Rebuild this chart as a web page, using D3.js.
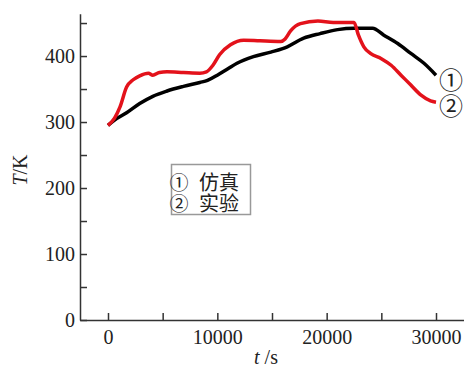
<!DOCTYPE html>
<html>
<head>
<meta charset="utf-8">
<script src="https://cdn.jsdelivr.net/npm/d3@7"></script>
<style>
  body { margin: 0; background: #fff; }
  svg { display: block; }
</style>
</head>
<body>
<div id="chart"></div>
<script>
// tiempo (s) y temperatura (K)
const tiempoSim = [0, 600, 1700, 2900, 4100, 5400, 6900, 8400, 9100, 10000, 11000, 11800, 13300, 14900, 16400, 17900, 19400, 21000, 22500, 24200, 25200, 26500, 27700, 28900, 30000]
const tempSim = [295, 303, 314, 328, 339, 347, 354, 360, 363, 371, 381, 389, 399, 406, 414, 427, 434, 440, 442, 442, 432, 419, 404, 389, 371]

const tiempoExp = [0, 600, 1100, 1700, 2300, 2900, 3700, 4100, 4700, 5400, 6900, 8400, 9000, 9600, 10200, 11200, 12400, 13900, 15800, 16200, 16700, 17600, 19200, 20600, 22200, 22500, 22900, 23400, 24000, 25000, 25900, 26800, 27700, 28600, 29500, 30000]
const tempExp = [295, 306, 323, 353, 364, 370, 374, 371, 375, 376, 375, 374, 376, 386, 402, 417, 424, 423, 422, 426, 438, 449, 453, 451, 451, 451, 432, 414, 404, 396, 386, 371, 356, 341, 332, 330]

const xTicks = [0, 5000, 10000, 15000, 20000, 25000, 30000]
const yTicks = [0, 50, 100, 150, 200, 250, 300, 350, 400, 450]
const leyenda = [['①', '仿真'], ['②', '实验']]

const width = 464
const height = 372

const svg = d3.select('#chart')
    .append('svg')
    .attr('width', width)
    .attr('height', height)

const x = d3.scaleLinear().domain([-2561, 32561]).range([80, 464])
const y = d3.scaleLinear().domain([0, 464]).range([320, 13.8])

const serif = '"Liberation Serif", "DejaVu Serif", serif'
const cjk = '"Noto Sans CJK SC", sans-serif'

// ejes
const ejeX = svg.append('g')
    .attr('transform', `translate(0,${y(0)})`)
    .call(d3.axisBottom(x).tickValues(xTicks).tickSize(-7).tickSizeOuter(0)
        .tickFormat((d) => d % 10000 == 0 ? d : ''))

const ejeY = svg.append('g')
    .attr('transform', `translate(${x.range()[0]},0)`)
    .call(d3.axisLeft(y).tickValues(yTicks).tickSize(-7).tickSizeOuter(0)
        .tickFormat((d) => d % 100 == 0 ? d : ''))

svg.selectAll('.domain, .tick line')
    .attr('stroke', '#333')
    .attr('stroke-width', 1.5)

ejeX.selectAll('text')
    .attr('font-family', serif)
    .attr('font-size', 20)
    .attr('fill', '#222')
    .attr('y', 10)
    .attr('dy', '0.71em')

ejeY.selectAll('text')
    .attr('font-family', serif)
    .attr('font-size', 20)
    .attr('fill', '#222')
    .attr('x', -5)

// titulos
svg.append('text')
    .attr('transform', 'translate(27,170) rotate(-90)')
    .attr('text-anchor', 'middle')
    .attr('font-family', serif)
    .attr('font-size', 20)
    .attr('fill', '#222')
    .html('<tspan font-style="italic">T</tspan>/K')

svg.append('text')
    .attr('x', 266)
    .attr('y', 364)
    .attr('text-anchor', 'middle')
    .attr('font-family', serif)
    .attr('font-size', 20)
    .attr('fill', '#222')
    .html('<tspan font-style="italic">t</tspan> /s')

// curvas
const linea = d3.line()
    .x((d) => x(d[0]))
    .y((d) => y(d[1]))
    .curve(d3.curveMonotoneX)

svg.append('path')
    .datum(d3.zip(tiempoSim, tempSim))
    .attr('d', linea)
    .attr('fill', 'none')
    .attr('stroke', '#000')
    .attr('stroke-width', 3.5)

svg.append('path')
    .datum(d3.zip(tiempoExp, tempExp))
    .attr('d', linea)
    .attr('fill', 'none')
    .attr('stroke', '#e3121b')
    .attr('stroke-width', 3.5)

// etiquetas al final de las curvas
svg.append('text')
    .attr('x', x(30000) + 15)
    .attr('y', y(tempSim[tempSim.length - 1]) + 3)
    .attr('text-anchor', 'middle')
    .attr('dominant-baseline', 'central')
    .attr('font-family', cjk)
    .attr('font-size', 24)
    .attr('fill', '#222')
    .text('①')

svg.append('text')
    .attr('x', x(30000) + 15)
    .attr('y', y(tempExp[tempExp.length - 1]) + 2)
    .attr('text-anchor', 'middle')
    .attr('dominant-baseline', 'central')
    .attr('font-family', cjk)
    .attr('font-size', 24)
    .attr('fill', '#222')
    .text('②')

// leyenda
const caja = svg.append('g')

caja.append('rect')
    .attr('x', 171.5)
    .attr('y', 164.5)
    .attr('width', 79)
    .attr('height', 50)
    .attr('fill', '#fff')
    .attr('stroke', '#999')
    .attr('stroke-width', 1.5)

caja.selectAll('g')
    .data(leyenda)
    .join('g')
    .attr('transform', (d, i) => `translate(0,${181.5 + i * 20.5})`)
    .each(function (d) {
        let g = d3.select(this)
        g.append('text')
            .attr('x', 179)
            .attr('text-anchor', 'middle')
            .attr('dominant-baseline', 'central')
            .attr('font-family', cjk)
            .attr('font-size', 19)
            .attr('fill', '#222')
            .text(d[0])
        g.append('text')
            .attr('x', 199)
            .attr('dominant-baseline', 'central')
            .attr('font-family', cjk)
            .attr('font-size', 20)
            .attr('fill', '#222')
            .text(d[1])
    })
</script>
</body>
</html>
